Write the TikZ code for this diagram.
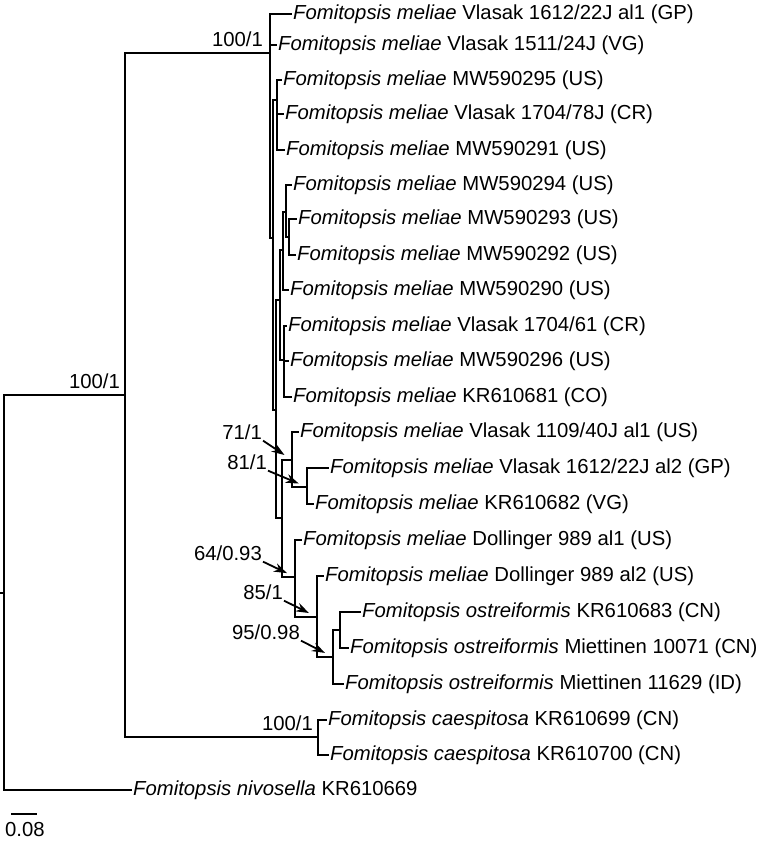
\documentclass[tikz,border=0pt]{standalone}
\usepackage{fontspec}
\setmainfont{Liberation Sans}
\usetikzlibrary{arrows.meta}

\tikzset{
  branch/.style={line width=2.9pt},
  taxon/.style={anchor=west, inner xsep=1.5pt, inner ysep=0pt, font=\fontsize{20.3}{24}\selectfont},
  support/.style={inner sep=1pt, font=\fontsize{20.3}{24}\selectfont},
  ptr/.style={-{Stealth[length=13pt,width=9pt]}, line width=1.8pt, shorten >=9pt},
}
\newcommand{\fmel}{\textit{Fomitopsis meliae}}
\newcommand{\fost}{\textit{Fomitopsis ostreiformis}}

\begin{document}
\begin{tikzpicture}[x=1pt, y=-1pt]
\useasboundingbox (0,0) rectangle (772,841);

% internal nodes of the tree
\coordinate (stub) at (0,593);
\coordinate (root) at (4,593);
\coordinate (nA) at (125,395);
\coordinate (nB) at (270,53);
\coordinate (nC) at (273,238);
\coordinate (nD) at (277,100);
\coordinate (nE) at (276,410);
\coordinate (nF) at (280,300);
\coordinate (nG) at (283,250);
\coordinate (nH) at (286,212);
\coordinate (nI) at (289,237);
\coordinate (nQ) at (284,360);
\coordinate (nP) at (282,518);
\coordinate (n71) at (292,460);
\coordinate (n81) at (307,487);
\coordinate (n64) at (295,577);
\coordinate (n85) at (317,617);
\coordinate (n95) at (333,657);
\coordinate (nO) at (340,630);
\coordinate (nCae) at (318,737);

% taxa
\node[taxon] (t1) at (291.5,14) {\fmel{} Vlasak 1612/22J al1 (GP)};
\node[taxon] (t2) at (276.5,45) {\fmel{} Vlasak 1511/24J (VG)};
\node[taxon] (t3) at (281.5,80) {\fmel{} MW590295 (US)};
\node[taxon] (t4) at (283.5,114) {\fmel{} Vlasak 1704/78J (CR)};
\node[taxon] (t5) at (284.5,150) {\fmel{} MW590291 (US)};
\node[taxon] (t6) at (291.5,185) {\fmel{} MW590294 (US)};
\node[taxon] (t7) at (296.5,219) {\fmel{} MW590293 (US)};
\node[taxon] (t8) at (295.5,255) {\fmel{} MW590292 (US)};
\node[taxon] (t9) at (288.5,290) {\fmel{} MW590290 (US)};
\node[taxon] (t10) at (286.5,326) {\fmel{} Vlasak 1704/61 (CR)};
\node[taxon] (t11) at (288.5,361) {\fmel{} MW590296 (US)};
\node[taxon] (t12) at (291.5,397) {\fmel{} KR610681 (CO)};
\node[taxon] (t13) at (298.5,432) {\fmel{} Vlasak 1109/40J al1 (US)};
\node[taxon] (t14) at (328.5,468) {\fmel{} Vlasak 1612/22J al2 (GP)};
\node[taxon] (t15) at (313.5,504) {\fmel{} KR610682 (VG)};
\node[taxon] (t16) at (301.5,540) {\fmel{} Dollinger 989 al1 (US)};
\node[taxon] (t17) at (323.5,576) {\fmel{} Dollinger 989 al2 (US)};
\node[taxon] (t18) at (360.5,612) {\fost{} KR610683 (CN)};
\node[taxon] (t19) at (348.5,648) {\fost{} Miettinen 10071 (CN)};
\node[taxon] (t20) at (343.5,684) {\fost{} Miettinen 11629 (ID)};
\node[taxon] (t21) at (326.5,720) {\textit{Fomitopsis caespitosa} KR610699 (CN)};
\node[taxon] (t22) at (328.5,755) {\textit{Fomitopsis caespitosa} KR610700 (CN)};
\node[taxon] (t23) at (131.5,790) {\textit{Fomitopsis nivosella} KR610669};

% branches
\foreach \p/\c in {stub/root, root/nA, root/t23, nA/nB, nA/nCae,
    nB/t1, nB/t2, nB/nC, nC/nD, nC/nE, nD/t3, nD/t4, nD/t5,
    nE/nF, nE/nP, nF/nG, nF/nQ, nG/nH, nG/t9, nH/t6, nH/nI,
    nI/t7, nI/t8, nQ/t10, nQ/t11, nQ/t12,
    nP/n71, nP/n64, n71/t13, n71/n81, n81/t14, n81/t15,
    n64/t16, n64/n85, n85/t17, n85/n95, n95/nO, n95/t20,
    nO/t18, nO/t19, nCae/t21, nCae/t22}
  \draw[branch] (\p) |- (\c);

% support values
\node[support, anchor=south east] (sA) at ([xshift=-4pt,yshift=5pt]nA) {100/1};
\node[support, anchor=south east] (sB) at ([xshift=-6pt,yshift=5pt]nB) {100/1};
\node[support, anchor=south east] (sCae) at ([xshift=-4pt,yshift=5pt]nCae) {100/1};
\node[support, anchor=east] (s71) at (263,432) {71/1};
\node[support, anchor=east] (s81) at (268,462) {81/1};
\node[support, anchor=east] (s64) at (263,553) {64/0.93};
\node[support, anchor=east] (s85) at (284,592) {85/1};
\node[support, anchor=east] (s95) at (301,632) {95/0.98};
\draw[ptr] (s71.south east) -- (n71);
\draw[ptr] (s81.south east) -- (n81);
\draw[ptr] (s64.south east) -- (n64);
\draw[ptr] (s85.south east) -- (n85);
\draw[ptr] (s95.south east) -- (n95);

% scale bar
\coordinate (barL) at (11,814);
\coordinate (barR) at (37,814);
\draw[branch] (barL) -- (barR);
\node[support, anchor=north west] (barlab) at (4,821) {0.08};
\end{tikzpicture}
\end{document}
